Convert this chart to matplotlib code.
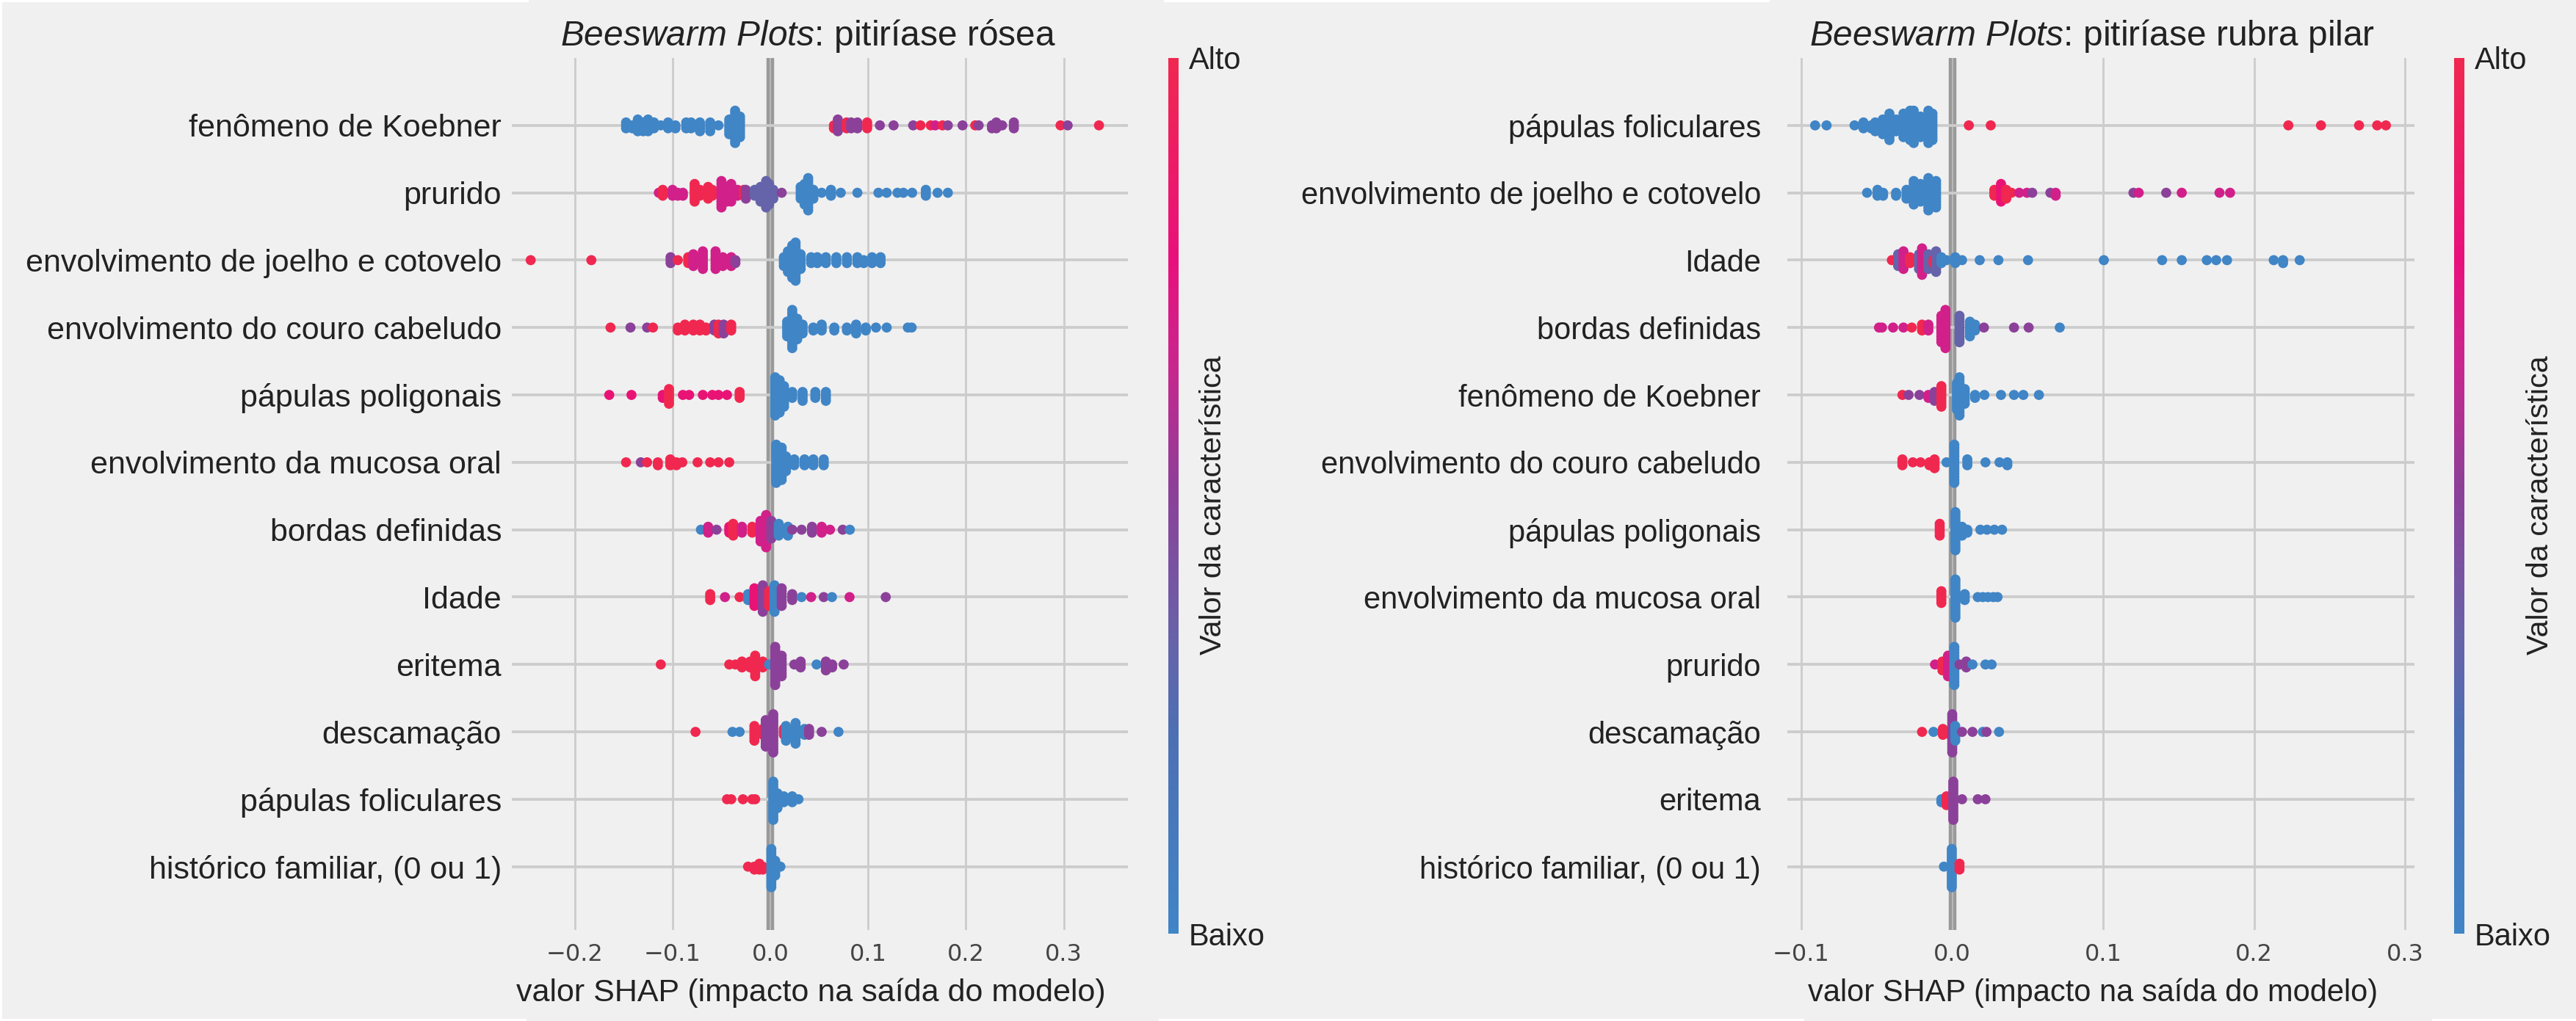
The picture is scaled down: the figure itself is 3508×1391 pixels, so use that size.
"""Beeswarm SHAP summary panels: pitiriase rosea and pitiriase rubra pilar."""
import numpy as np
import matplotlib
matplotlib.use("Agg")
import matplotlib.pyplot as plt
from matplotlib.cm import ScalarMappable
from matplotlib.colors import LinearSegmentedColormap, Normalize
from matplotlib.patches import Rectangle
from matplotlib.transforms import ScaledTranslation

W, H = 3508, 1391
BG = "#f0f0f0"
GRID = "#cccccc"
INK = "#222222"

plt.rcParams["font.family"] = ["Liberation Sans", "DejaVu Sans"]
plt.rcParams["mathtext.fontset"] = "custom"
plt.rcParams["mathtext.it"] = "Liberation Sans:italic"
plt.rcParams["mathtext.rm"] = "Liberation Sans"

# feature value levels used for the dots: B(lue) V(iolet) P(urple) M(agenta) H(ot) R(ed)
LEVELS = {"B": 0.0, "V": 0.33, "P": 0.5, "M": 0.68, "H": 0.8, "R": 1.0}
CMAP = LinearSegmentedColormap.from_list("shap_like", [
    (0.00, "#4085c6"), (0.23, "#4d6fb3"), (0.34, "#6862a8"), (0.51, "#8d3f98"),
    (0.65, "#c9268e"), (0.77, "#e8107c"), (1.00, "#f02850")])

ROSEA_TITLE = r"$\it{Beeswarm\ Plots}$: pitiríase rósea"
RUBRA_TITLE = r"$\it{Beeswarm\ Plots}$: pitiríase rubra pilar"
XLABEL = "valor SHAP (impacto na saída do modelo)"
CBAR_LABEL = "Valor da característica"

ROSEA_FEATURES = ["fenômeno de Koebner", "prurido", "envolvimento de joelho e cotovelo",
                  "envolvimento do couro cabeludo", "pápulas poligonais",
                  "envolvimento da mucosa oral", "bordas definidas", "Idade", "eritema",
                  "descamação", "pápulas foliculares", "histórico familiar, (0 ou 1)"]
RUBRA_FEATURES = ["pápulas foliculares", "envolvimento de joelho e cotovelo", "Idade",
                  "bordas definidas", "fenômeno de Koebner", "envolvimento do couro cabeludo",
                  "pápulas poligonais", "envolvimento da mucosa oral", "prurido",
                  "descamação", "eritema", "histórico familiar, (0 ou 1)"]
ROSEA_TICKS = [-0.2, -0.1, 0.0, 0.1, 0.2, 0.3]
RUBRA_TICKS = [-0.1, 0.0, 0.1, 0.2, 0.3]

# one list per row: SHAP value of each swarm column, dots in the column, colour levels
ROSEA_VALUES = [
    [-.1475, -.141, -.1355, -.130, -.125, -.119, -.112, -.1045, -.097, -.086, -.081, -.072,
     -.0615, -.053, -.042, -.036, -.031, .065, .069, .078, .0826, .089, .099, .112, .126,
     .146, .1535, .164, .1686, .176, .1815, .1965, .2095, .213, .2266, .231, .237, .249,
     .2967, .304, .336],
    [-.114, -.110, -.100, -.0946, -.0894, -.0774, -.072, -.0636, -.0593, -.050, -.0443, -.040,
     -.0335, -.027, -.025, -.016, -.010, -.0043, -.0013, .003, .0116, .031, .035, .0387, .044,
     .0525, .062, .072, .089, .1105, .119, .130, .136, .145, .159, .171, .1815],
    [-.245, -.183, -.102, -.0946, -.084, -.0787, -.069, -.056, -.0486, -.040, -.0357, .0138,
     .018, .0224, .0258, .031, .0417, .048, .0568, .0675, .0783, .089, .0955, .104, .1127],
    [-.1634, -.143, -.126, -.120, -.0946, -.0873, -.0787, -.072, -.0658, -.0572, -.053, -.0477,
     -.040, .0172, .0224, .0275, .033, .0439, .0525, .0654, .0783, .0877, .0976, .108, .119,
     .1406, .1445],
    [-.1647, -.142, -.110, -.1036, -.0894, -.083, -.069, -.0593, -.053, -.0443, -.0314, .005,
     .0095, .014, .0224, .033, .046, .0568],
    [-.1475, -.1324, -.126, -.115, -.1023, -.096, -.09, -.0744, -.0615, -.053, -.042, .006,
     .0116, .016, .0245, .035, .044, .0546],
    [-.071, -.0636, -.055, -.042, -.038, -.029, -.0185, -.01, -.0043, .001, .0086, .018, .0224,
     .032, .0426, .0525, .061, .074, .0813],
    [-.0615, -.0464, -.0314, -.0228, -.0163, -.0077, -.0013, .0043, .0116, .0224, .032, .0417,
     .0546, .063, .081, .118],
    [-.112, -.042, -.0357, -.029, -.0206, -.0155, -.0077, -.0013, .005, .0116, .0245, .031,
     .0473, .0568, .0632, .075],
    [-.0765, -.0387, -.0314, -.0163, -.0077, -.0047, .003, .0138, .016, .0258, .035, .0396,
     .0525, .0697],
    [-.0443, -.040, -.028, -.0185, -.0155, .003, .0073, .0138, .0224, .0288],
    [-.0228, -.0163, -.0112, -.0077, .001, .005, .0103],
]
ROSEA_COUNTS = [
    [3, 2, 5, 4, 5, 3, 1, 3, 2, 3, 3, 4, 4, 1, 6, 12, 8, 2, 5, 3, 3, 3, 3, 1, 1, 1, 1, 1, 1, 1,
     1, 1, 1, 1, 2, 3, 1, 3, 1, 1, 1],
    [1, 3, 3, 2, 2, 7, 3, 5, 3, 10, 6, 7, 3, 3, 4, 3, 6, 10, 8, 4, 1, 5, 8, 12, 4, 1, 3, 1, 1,
     1, 1, 1, 1, 1, 3, 1, 1],
    [1, 1, 3, 1, 3, 5, 7, 7, 4, 4, 2, 4, 8, 12, 14, 6, 3, 3, 3, 3, 3, 3, 2, 3, 3],
    [1, 1, 1, 1, 2, 3, 3, 3, 2, 3, 4, 4, 3, 6, 14, 8, 4, 2, 3, 2, 2, 4, 2, 1, 1, 1, 1],
    [1, 1, 2, 6, 1, 1, 1, 1, 1, 1, 3, 14, 12, 8, 3, 4, 3, 4],
    [1, 1, 1, 2, 3, 2, 1, 1, 1, 1, 1, 14, 12, 6, 3, 3, 3, 3],
    [1, 3, 1, 3, 5, 3, 3, 8, 12, 7, 5, 4, 1, 1, 3, 3, 1, 1, 1],
    [3, 1, 1, 3, 7, 10, 6, 10, 7, 3, 1, 1, 1, 1, 1, 1],
    [1, 1, 1, 3, 3, 8, 3, 1, 14, 8, 1, 3, 1, 4, 2, 1],
    [1, 1, 1, 6, 3, 10, 14, 3, 6, 8, 3, 3, 1, 1],
    [1, 1, 1, 1, 1, 14, 6, 3, 3, 1],
    [1, 2, 3, 2, 14, 6, 1],
]
ROSEA_COLORS = [
    "BBBBBBBBBBBBBBBBB" "RPRPPRPPPRRMRPPRPPPPPRPR",
    "MRMMMRRRRMMMMRPVVVVVP" "BBBBBBBBBBBBBBBB",
    "RRPRRMMMMMP" "BBBBBBBBBBBBBB",
    "RPPRRRRRRPRPR" "BBBBBBBBBBBBBB",
    "HHHRHHHHHHR" "BBBBBBB",
    "RPRRRRRRRRR" "BBBBBBB",
    "BMPHRMRMMPBBPPPMMPB",
    "RMRBHPRBPPBMPBMP",
    "RRRRRRRBPPPPBPPP",
    "RBBRRPPRBBBPPB",
    "RRRRRBBBBB",
    "RRRRBBB",
]

RUBRA_VALUES = [
    [-.0908, -.0832, -.0647, -.0588, -.0537, -.051, -.046, -.0416, -.0372, -.0323, -.0279,
     -.0255, -.021, -.0158, -.0131, .011, .0255, .2226, .2442, .2694, .2814, .2872],
    [-.0564, -.0495, -.0458, -.0372, -.0303, -.0255, -.021, -.0158, -.0107, .0279, .0323, .0358,
     .0392, .0444, .0495, .053, .065, .0685, .12, .1235, .1417, .152, .177, .184],
    [-.04, -.0358, -.0323, -.0279, -.022, -.02, -.0158, -.0124, -.0107, -.0072, -.0038, .002,
     .0065, .0182, .0306, .0502, .1004, .139, .152, .1686, .1748, .182, .2129, .2191, .2301],
    [-.0485, -.0465, -.0392, -.0323, -.0268, -.02, -.0158, -.0072, -.0045, .0048, .0117, .0151,
     .021, .0409, .0506, .0712],
    [-.033, -.0289, -.0217, -.0158, -.0117, -.0072, .0031, .0048, .0083, .0151, .0213, .0323,
     .0409, .0471, .0574],
    [-.033, -.0261, -.021, -.0151, -.0117, -.0038, .0014, .01, .022, .0313, .0365],
    [-.0083, .0021, .0065, .01, .0186, .023, .0279, .033],
    [-.0072, .0021, .0083, .0169, .0203, .0237, .0272, .03],
    [-.0114, -.0065, -.0028, .0014, .0048, .0093, .0134, .022, .0261],
    [-.02, -.0124, -.0062, -.0014, 0.0, .002, .0065, .0134, .0203, .0227, .031],
    [-.0072, -.0038, -.0007, .0007, .0065, .0169, .022],
    [-.0055, -.0003, .0048],
]
RUBRA_COUNTS = [
    [1, 1, 1, 3, 2, 4, 6, 10, 5, 9, 11, 12, 8, 12, 10, 1, 1, 1, 1, 1, 1, 1],
    [1, 3, 2, 2, 4, 9, 7, 12, 10, 3, 7, 4, 1, 1, 1, 1, 1, 2, 1, 1, 1, 1, 1, 1],
    [1, 5, 7, 3, 6, 10, 6, 2, 8, 3, 1, 3, 1, 1, 1, 1, 1, 1, 1, 1, 1, 1, 1, 2, 1],
    [1, 1, 1, 1, 1, 3, 3, 10, 14, 10, 6, 3, 1, 1, 1, 1],
    [1, 1, 1, 2, 4, 8, 10, 14, 6, 2, 1, 1, 1, 1, 1],
    [3, 1, 1, 2, 4, 1, 14, 3, 1, 1, 2],
    [5, 14, 4, 2, 1, 1, 1, 1],
    [5, 14, 3, 1, 1, 1, 1, 1],
    [1, 4, 8, 14, 1, 3, 1, 1, 1],
    [1, 1, 3, 2, 14, 6, 1, 1, 1, 1, 1],
    [2, 4, 3, 14, 1, 1, 1],
    [1, 14, 3],
]
RUBRA_COLORS = [
    "BBBBBBBBBBBBBBB" "RRRRRRR",
    "BBBBBBBBB" "RHRRMMPPMPMPMMM",
    "RVMRVMVRVBBBB" "BBBBBBBBBBBB",
    "MMMMRRMMMVBBPPPB",
    "RPPMPRBBBBBBBBB",
    "RRRRRBBBBBB",
    "RBBBBBBB",
    "RBBBBBBB",
    "MRMBPPBBB",
    "RBRRPBPPBPB",
    "BRRPPPP",
    "BBR",
]


def px_rect(left, top, right, bottom):
    """figure-fraction rect from pixel edges (y measured from the top)"""
    return [left / W, 1 - bottom / H, (right - left) / W, (bottom - top) / H]


def swarm_layout(values, counts, levels, step=0.0436):
    """Stack each column above and below its row line, as shap's summary plot does."""
    xs, ys, cs = [], [], []
    for v, n, lev in zip(values, counts, levels, strict=True):
        for layer in range(n):
            xs.append(v)
            ys.append(np.ceil(layer / 2) * ((layer % 2) * 2 - 1) * step)
            cs.append(LEVELS[lev])
    return np.array(xs), np.array(ys), np.array(cs)


def beeswarm_panel(fig, rect, cbar_rect, xlim, features, ticks, values, counts, colors,
                   title, title_x, xlabel_x, label_size, label_pad, xlabel_size, cbar_label_x):
    ax = fig.add_axes(px_rect(*rect), facecolor=BG)
    ax.set_xlim(*xlim)
    ax.set_ylim(11.94, -1.0)
    for spine in ax.spines.values():
        spine.set_visible(False)

    ax.grid(True, axis="x", color=GRID, linewidth=2.0, zorder=1)
    ax.set_axisbelow(True)
    ax.axvline(0, color="#999999", linewidth=7.5, zorder=1.5)
    ax.axvline(0, color="#b8b8b8", linewidth=1.5, zorder=1.6)
    for i in range(len(features)):
        ax.axhline(i, color=GRID, linewidth=2.7, zorder=2)

    for i in range(len(features)):
        xs, ys, cs = swarm_layout(values[i], counts[i], colors[i])
        ax.scatter(xs, i + ys, c=cs, cmap=CMAP, vmin=0, vmax=1, s=98, linewidths=0, zorder=3)

    ax.set_yticks(range(len(features)))
    ax.set_yticklabels(features, fontsize=label_size, color=INK)
    # the row labels sit a touch under their grid line in the original
    for lab in ax.get_yticklabels():
        lab.set_transform(lab.get_transform() + ScaledTranslation(0, -0.03, fig.dpi_scale_trans))
    ax.set_xticks(ticks)
    ax.set_xticklabels([f"{t:.1f}".replace("-", "\u2212") for t in ticks],
                       fontsize=23, color="#444444", family="DejaVu Sans")
    ax.tick_params(axis="both", length=0)
    ax.tick_params(axis="x", pad=13)
    ax.tick_params(axis="y", pad=label_pad)
    ax.set_xlabel(XLABEL, fontsize=xlabel_size, color=INK, x=xlabel_x, labelpad=12)
    ax.set_title(title, fontsize=34.5, color=INK, x=title_x, pad=12)

    cax = fig.add_axes(px_rect(*cbar_rect))
    sm = ScalarMappable(norm=Normalize(0, 1), cmap=CMAP)
    cb = fig.colorbar(sm, cax=cax)
    cb.outline.set_visible(False)
    cb.set_ticks([0, 1], labels=["Baixo", "Alto"])
    cax.tick_params(length=0, labelsize=30, labelcolor=INK, pad=10)
    cb.set_label(CBAR_LABEL, fontsize=29.7, color=INK)
    cax.yaxis.set_label_coords(cbar_label_x, 0.489)
    return ax


fig = plt.figure(figsize=(W / 100, H / 100), dpi=100, facecolor=BG)

beeswarm_panel(fig, (697, 79, 1536, 1267), (1591, 79, 1605, 1272), (-0.2643, 0.3656),
               ROSEA_FEATURES, ROSEA_TICKS, ROSEA_VALUES, ROSEA_COUNTS, ROSEA_COLORS,
               ROSEA_TITLE, 0.4815, 0.486, 31, 10, 31, 3.0)
beeswarm_panel(fig, (2434, 79, 3288, 1267), (3342, 79, 3356, 1272), (-0.1092, 0.3061),
               RUBRA_FEATURES, RUBRA_TICKS, RUBRA_VALUES, RUBRA_COUNTS, RUBRA_COLORS,
               RUBRA_TITLE, 0.486, 0.487, 30, 26, 30, 7.0)

# thin white slivers left at the page edge of the original
for x0, y0, x1, y1 in [(0, 0, 720, 3), (1585, 0, 2410, 3), (0, 0, 3, 1391),
                       (0, 1388, 717, 1391), (1578, 1388, 2457, 1391), (3312, 1388, 3508, 1391)]:
    fig.add_artist(Rectangle((x0 / W, 1 - y1 / H), (x1 - x0) / W, (y1 - y0) / H,
                             transform=fig.transFigure, facecolor="white", edgecolor="none"))

fig.savefig("out.png", dpi=100, facecolor=BG)
